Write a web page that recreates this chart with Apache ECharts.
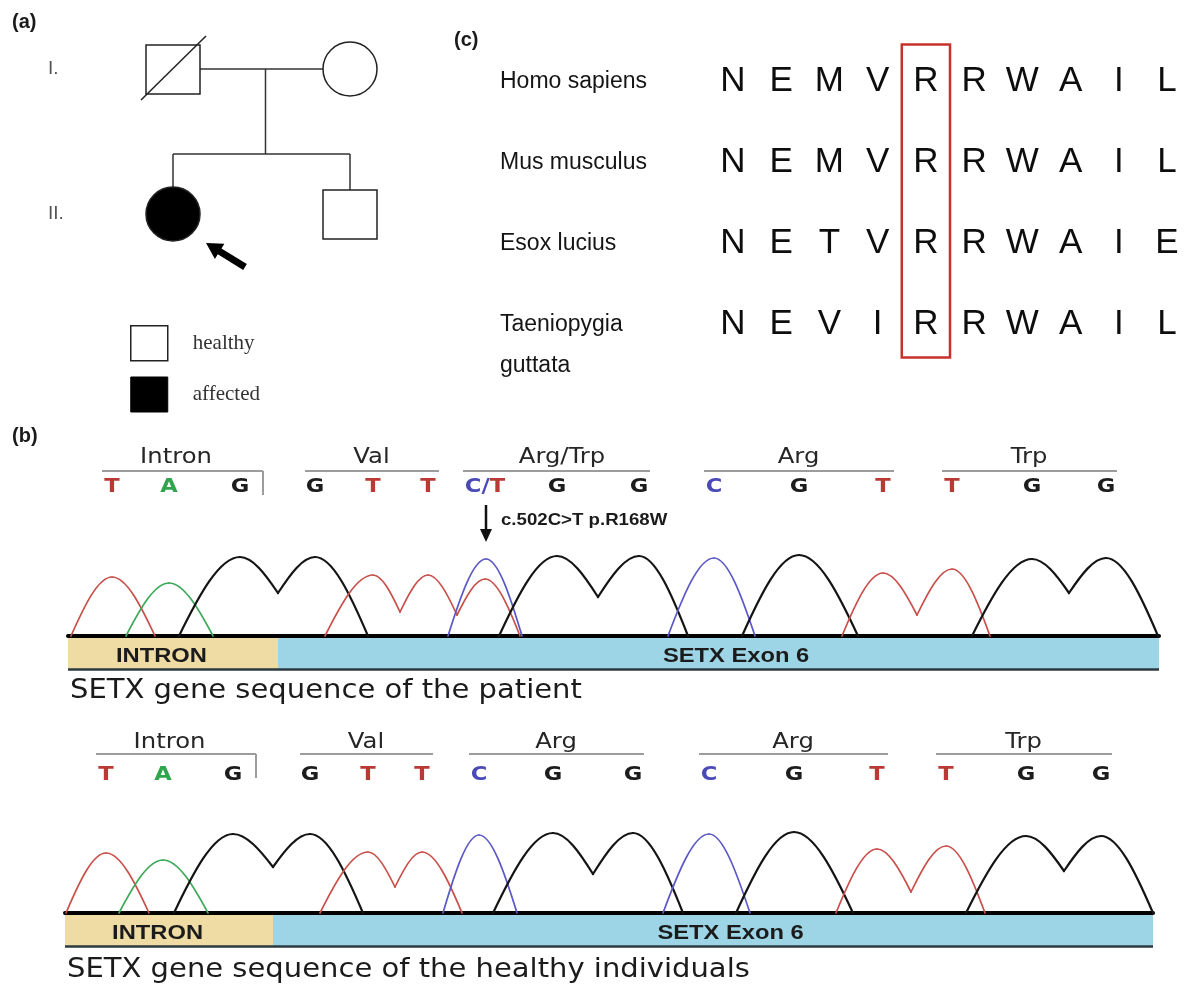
<!DOCTYPE html>
<html>
<head>
<meta charset="utf-8">
<title>SETX c.502C>T</title>
<script src="https://cdn.jsdelivr.net/npm/echarts@6/dist/echarts.min.js"></script>
<style>
  html, body { margin: 0; padding: 0; background: #fff; }
  #chart { width: 1184px; height: 988px; }
</style>
</head>
<body>
<div id="chart"></div>
<script>
// ---- (a) pedigree ----
const memberGen = [1, 1, 2, 2];
const memberSlot = [0, 1, 0, 1];
const memberSex = ['M', 'F', 'F', 'M'];
const memberAffected = [0, 0, 1, 0];
const memberDeceased = [1, 0, 0, 0];
const memberProband = [0, 0, 1, 0];
const generationLabels = ['I.', 'II.'];
const statusNames = ['healthy', 'affected'];

// ---- (c) conservation ----
const species = ['Homo sapiens', 'Mus musculus', 'Esox lucius', 'Taeniopygia guttata'];
const residues = ['NEMVRRWAIL', 'NEMVRRWAIL', 'NETVRRWAIE', 'NEVIRRWAIL'];
const mutatedColumn = 4;

// ---- (b) chromatograms ----
const baseCallsPatient = ['T', 'A', 'G', 'G', 'T', 'T', 'C/T', 'G', 'G', 'C', 'G', 'T', 'T', 'G', 'G'];
const baseCallsHealthy = ['T', 'A', 'G', 'G', 'T', 'T', 'C', 'G', 'G', 'C', 'G', 'T', 'T', 'G', 'G'];
const callPosPatient = [44, 101, 172, 247, 305, 360, 417, 489, 571, 646, 731, 815, 884, 964, 1038];
const callPosHealthy = [41, 98, 168, 245, 303, 357, 414, 488, 568, 644, 729, 812, 881, 961, 1036];
const codonsPatient = ['Intron', 'Val', 'Arg/Trp', 'Arg', 'Trp'];
const codonsHealthy = ['Intron', 'Val', 'Arg', 'Arg', 'Trp'];
const regionNames = ['INTRON', 'SETX Exon 6'];
const regionBoundsPatient = [0, 210, 1091];
const regionBoundsHealthy = [0, 208, 1088];
const mutationNote = 'c.502C>T p.R168W';
const captions = ['SETX gene sequence of the patient', 'SETX gene sequence of the healthy individuals'];

// trace key points (scan position, signal): baseline start, peaks, dips, baseline end
const traceBasePatient = ['T', 'A', 'G', 'T', 'C', 'G', 'C', 'G', 'T', 'G'];
const traceXPatient = [
  [3, 44, 87], [58, 101, 145], [111, 172, 210, 247, 300], [257, 305, 332, 360, 389, 417, 452],
  [380, 418, 454], [431, 489, 530, 571, 620], [600, 646, 687], [674, 731, 790],
  [774, 815, 849, 884, 922], [904, 964, 1001, 1038, 1090]
];
const traceYPatient = [
  [0, 59, 0], [0, 53, 0], [0, 79, 43, 79, 0], [0, 61, 24, 61, 21, 57, 0],
  [0, 77, 0], [0, 80, 39, 80, 0], [0, 78, 0], [0, 81, 0],
  [0, 63, 21, 67, 0], [0, 77, 43, 78, 0]
];
const traceBaseHealthy = ['T', 'A', 'G', 'T', 'C', 'G', 'C', 'G', 'T', 'G'];
const traceXHealthy = [
  [1, 41, 84], [54, 98, 143], [109, 168, 208, 245, 298], [255, 303, 330, 357, 397],
  [378, 414, 452], [428, 488, 528, 568, 618], [598, 644, 685], [671, 729, 788],
  [771, 812, 846, 881, 920], [901, 961, 999, 1036, 1088]
];
const traceYHealthy = [
  [0, 60, 0], [0, 53, 0], [0, 79, 46, 79, 0], [0, 61, 26, 61, 0],
  [0, 78, 0], [0, 80, 39, 80, 0], [0, 79, 0], [0, 81, 0],
  [0, 64, 21, 67, 0], [0, 77, 42, 77, 0]
];

// ---- styles ----
const traceColor = { T: '#c9504a', A: '#3da858', G: '#141414', C: '#5b59c6' };
const callColor = { T: '#b93a35', A: '#2fa64d', G: '#1c1c1c', C: '#4a4ab6' };
const regionColor = ['#eedca4', '#9dd5e7'];
const regionAnchor = [0.445, 0.52];
const stretchX = 1.13; // panel (b) is a slightly widened picture

const panels = [
  {
    grid: 2, calls: baseCallsPatient, pos: callPosPatient, codons: codonsPatient, bounds: regionBoundsPatient,
    traceBase: traceBasePatient, traceX: traceXPatient, traceY: traceYPatient, caption: captions[0],
    callDy: -149, lineDy: -165, labelDy: -179, captionDy: 55
  },
  {
    grid: 3, calls: baseCallsHealthy, pos: callPosHealthy, codons: codonsHealthy, bounds: regionBoundsHealthy,
    traceBase: traceBaseHealthy, traceX: traceXHealthy, traceY: traceYHealthy, caption: captions[1],
    callDy: -138, lineDy: -159, labelDy: -171, captionDy: 57
  }
];

function buildSegments(bases, xs, ys) {
  const segs = [];
  bases.forEach((b, t) => {
    for (let k = 0; k < xs[t].length - 1; k++) {
      segs.push({ base: b, value: [xs[t][k], ys[t][k], xs[t][k + 1], ys[t][k + 1]] });
    }
  });
  return segs;
}

// each half peak is drawn as a quarter sine between two key points
function traceRender(segs) {
  return function (params, api) {
    const s = segs[params.dataIndex];
    const p0 = api.coord([api.value(0), api.value(1)]);
    const p1 = api.coord([api.value(2), api.value(3)]);
    const dx = p1[0] - p0[0];
    const dy = p1[1] - p0[1];
    const k = Math.PI / 6;
    const rising = api.value(3) > api.value(1);
    const c1 = rising ? [p0[0] + dx / 3, p0[1] + dy * k] : [p0[0] + dx / 3, p0[1]];
    const c2 = rising ? [p1[0] - dx / 3, p1[1]] : [p1[0] - dx / 3, p1[1] - dy * k];
    return {
      type: 'bezierCurve',
      shape: { x1: p0[0], y1: p0[1], x2: p1[0], y2: p1[1], cpx1: c1[0], cpy1: c1[1], cpx2: c2[0], cpy2: c2[1] },
      style: { stroke: traceColor[s.base], lineWidth: s.base === 'G' ? 2.2 : 1.7, fill: 'none', lineCap: 'round' }
    };
  };
}

function regionRender(pn) {
  return function (params, api) {
    const i = params.dataIndex;
    const a = api.coord([api.value(0), 0]);
    const b = api.coord([api.value(1), 0]);
    const children = [
      { type: 'rect', shape: { x: a[0], y: a[1] + 2, width: b[0] - a[0], height: 31 }, style: { fill: regionColor[i] } },
      { type: 'line', shape: { x1: a[0], y1: a[1] + 33.5, x2: b[0], y2: a[1] + 33.5 }, style: { stroke: '#2d3a3f', lineWidth: 2.5 } },
      {
        type: 'text', x: a[0] + regionAnchor[i] * (b[0] - a[0]), y: a[1] + 20, scaleX: stretchX,
        style: { text: regionNames[i], fontFamily: 'Liberation Sans', fontWeight: 'bold', fontSize: 21, fill: '#1b1b1b', align: 'center', verticalAlign: 'middle' }
      }
    ];
    if (i === 0) {
      children.push({
        type: 'text', x: a[0] + 2, y: a[1] + pn.captionDy, scaleX: stretchX,
        style: { text: pn.caption, fontFamily: 'DejaVu Sans', fontSize: 25.7, fill: '#1b1b1b', align: 'left', verticalAlign: 'middle' }
      });
    }
    return { type: 'group', children: children };
  };
}

function callRender(pn) {
  return function (params, api) {
    const call = pn.calls[params.dataIndex];
    const p = api.coord([api.value(0), 0]);
    const y = p[1] + pn.callDy;
    const font = { fontFamily: 'DejaVu Sans', fontWeight: 'bold', fontSize: 20 };
    const children = [];
    if (call.indexOf('/') >= 0) {
      const parts = call.split('/');
      children.push({
        type: 'text', x: p[0], y: y, scaleX: stretchX,
        style: Object.assign({
          text: '{a|' + parts[0] + '/}{b|' + parts[1] + '}', align: 'center', verticalAlign: 'middle',
          rich: { a: Object.assign({ fill: callColor[parts[0]] }, font), b: Object.assign({ fill: callColor[parts[1]] }, font) }
        }, font)
      });
      // arrow and annotation under the heterozygous call
      children.push({ type: 'line', shape: { x1: p[0] + 1, y1: y + 18, x2: p[0] + 1, y2: y + 44 }, style: { stroke: '#111', lineWidth: 2.5 } });
      children.push({ type: 'polygon', shape: { points: [[p[0] - 5, y + 42], [p[0] + 7, y + 42], [p[0] + 1, y + 55]] }, style: { fill: '#111' } });
      children.push({
        type: 'text', x: p[0] + 16, y: y + 33, scaleX: stretchX,
        style: { text: mutationNote, fontFamily: 'Liberation Sans', fontWeight: 'bold', fontSize: 16.5, fill: '#1b1b1b', align: 'left', verticalAlign: 'middle' }
      });
    } else {
      children.push({
        type: 'text', x: p[0], y: y, scaleX: stretchX,
        style: Object.assign({ text: call, fill: callColor[call], align: 'center', verticalAlign: 'middle' }, font)
      });
    }
    return { type: 'group', children: children };
  };
}

function codonRender(pn) {
  return function (params, api) {
    const i = params.dataIndex;
    const name = pn.codons[i];
    const first = pn.calls[3 * i];
    const pa = api.coord([api.value(0), 0]);
    const pb = api.coord([api.value(1), 0]);
    const xa = pa[0] - (first.length > 1 ? 22 : 10);
    const xb = pb[0] + (name === 'Intron' ? 23 : 11);
    const ly = pa[1] + pn.lineDy;
    const children = [
      { type: 'line', shape: { x1: xa, y1: ly, x2: xb, y2: ly }, style: { stroke: '#9c9c9c', lineWidth: 2 } },
      {
        type: 'text', x: (pa[0] + pb[0]) / 2, y: pa[1] + pn.labelDy, scaleX: stretchX,
        style: { text: name, fontFamily: 'DejaVu Sans', fontSize: 21.5, fill: '#262626', align: 'center', verticalAlign: 'middle' }
      }
    ];
    if (name === 'Intron') {
      children.push({ type: 'line', shape: { x1: xb, y1: ly, x2: xb, y2: ly + 24 }, style: { stroke: '#9c9c9c', lineWidth: 2 } });
    }
    return { type: 'group', children: children };
  };
}

// ---- pedigree ----
function memberRender(ids) {
  return function (params, api) {
    const m = ids[params.dataIndex];
    const p = api.coord([memberSlot[m], memberGen[m]]);
    const fill = memberAffected[m] ? '#000' : '#fff';
    const children = [];
    if (memberSex[m] === 'M') {
      children.push({ type: 'rect', shape: { x: p[0] - 27, y: p[1] - 24, width: 54, height: 49 }, style: { fill: fill, stroke: '#222', lineWidth: 1.5 } });
    } else {
      children.push({ type: 'circle', shape: { cx: p[0], cy: p[1], r: 27 }, style: { fill: fill, stroke: '#222', lineWidth: 1.5 } });
    }
    if (memberDeceased[m]) {
      children.push({ type: 'line', shape: { x1: p[0] - 32, y1: p[1] + 31, x2: p[0] + 33, y2: p[1] - 33 }, style: { stroke: '#222', lineWidth: 1.5 } });
    }
    if (memberProband[m]) {
      const tip = [p[0] + 33, p[1] + 29];
      const tail = [p[0] + 72, p[1] + 53];
      const len = Math.hypot(tip[0] - tail[0], tip[1] - tail[1]);
      const u = [(tip[0] - tail[0]) / len, (tip[1] - tail[1]) / len];
      const n = [-u[1], u[0]];
      const hb = [tip[0] - u[0] * 16, tip[1] - u[1] * 16];
      const pt = (o, s) => [o[0] + n[0] * s, o[1] + n[1] * s];
      children.push({
        type: 'polygon',
        shape: { points: [tip, pt(hb, 9), pt(hb, 3.5), pt(tail, 3.5), pt(tail, -3.5), pt(hb, -3.5), pt(hb, -9)] },
        style: { fill: '#000' }
      });
    }
    return { type: 'group', children: children };
  };
}

function familyRender(params, api) {
  const parents = memberGen.map((g, i) => i).filter(i => memberGen[i] === 1);
  const kids = memberGen.map((g, i) => i).filter(i => memberGen[i] === 2);
  const pa = api.coord([memberSlot[parents[0]], 1]);
  const pb = api.coord([memberSlot[parents[1]], 1]);
  const ka = api.coord([memberSlot[kids[0]], 2]);
  const kb = api.coord([memberSlot[kids[kids.length - 1]], 2]);
  const midX = (pa[0] + pb[0]) / 2 + 4;
  const sibY = pa[1] + 0.586 * (ka[1] - pa[1]);
  const st = { stroke: '#333', lineWidth: 1.5 };
  const children = [
    { type: 'line', shape: { x1: pa[0] + 27, y1: pa[1], x2: pb[0] - 27, y2: pb[1] }, style: st },
    { type: 'line', shape: { x1: midX, y1: pa[1], x2: midX, y2: sibY }, style: st },
    { type: 'line', shape: { x1: ka[0], y1: sibY, x2: kb[0], y2: sibY }, style: st }
  ];
  kids.forEach(k => {
    const c = api.coord([memberSlot[k], 2]);
    children.push({ type: 'line', shape: { x1: c[0], y1: sibY, x2: c[0], y2: c[1] - (memberSex[k] === 'M' ? 24 : 27) }, style: st });
  });
  return { type: 'group', children: children };
}

const healthyIds = memberGen.map((g, i) => i).filter(i => !memberAffected[i]);
const affectedIds = memberGen.map((g, i) => i).filter(i => memberAffected[i]);

// ---- alignment ----
const alignCells = [];
residues.forEach((seq, r) => seq.split('').forEach((aa, c) => alignCells.push([c, r, aa])));

const series = [
  { type: 'custom', name: 'family', xAxisIndex: 0, yAxisIndex: 0, silent: true, data: [[0.5, 1]], renderItem: familyRender },
  { type: 'custom', name: statusNames[0], xAxisIndex: 0, yAxisIndex: 0, silent: true,
    data: healthyIds.map(i => [memberSlot[i], memberGen[i]]), renderItem: memberRender(healthyIds) },
  { type: 'custom', name: statusNames[1], xAxisIndex: 0, yAxisIndex: 0, silent: true,
    data: affectedIds.map(i => [memberSlot[i], memberGen[i]]), renderItem: memberRender(affectedIds) },
  {
    type: 'custom', name: 'residues', xAxisIndex: 1, yAxisIndex: 1, silent: true,
    data: alignCells.map(d => [d[0], d[1]]),
    renderItem: (params, api) => {
      const p = api.coord([api.value(0), api.value(1)]);
      return { type: 'text', x: p[0], y: p[1], style: { text: alignCells[params.dataIndex][2], fontFamily: 'Liberation Sans', fontSize: 35, fill: '#0d0d0d', align: 'center', verticalAlign: 'middle' } };
    }
  },
  {
    type: 'custom', name: 'species', xAxisIndex: 1, yAxisIndex: 1, silent: true,
    data: species.map((s, r) => [0, r]),
    renderItem: (params, api) => {
      const p = api.coord([0, api.value(1)]);
      return { type: 'text', x: p[0] - 233, y: p[1] - 20.5, style: { text: species[params.dataIndex], fontFamily: 'Liberation Sans', fontSize: 23, fill: '#151515', lineHeight: 41, width: 165, overflow: 'break', align: 'left', verticalAlign: 'top' } };
    }
  },
  {
    type: 'custom', name: 'mutated', xAxisIndex: 1, yAxisIndex: 1, silent: true,
    data: [[mutatedColumn, 0]],
    renderItem: (params, api) => {
      const top = api.coord([api.value(0), 0]);
      const bottom = api.coord([api.value(0), residues.length - 1]);
      const w = api.size([1, 0])[0];
      return { type: 'rect', shape: { x: top[0] - w / 2, y: top[1] - 37, width: w, height: bottom[1] - top[1] + 70 }, style: { fill: 'none', stroke: '#c8322c', lineWidth: 2.5 } };
    }
  }
];

panels.forEach(pn => {
  const segs = buildSegments(pn.traceBase, pn.traceX, pn.traceY);
  series.push({ type: 'custom', xAxisIndex: pn.grid, yAxisIndex: pn.grid, silent: true, z: 3,
    data: segs.map(s => s.value), renderItem: traceRender(segs) });
  series.push({ type: 'custom', xAxisIndex: pn.grid, yAxisIndex: pn.grid, silent: true,
    data: pn.bounds.slice(0, -1).map((b, i) => [b, pn.bounds[i + 1]]), renderItem: regionRender(pn) });
  series.push({ type: 'custom', xAxisIndex: pn.grid, yAxisIndex: pn.grid, silent: true,
    data: pn.pos.map(p => [p, 0]), renderItem: callRender(pn) });
  series.push({ type: 'custom', xAxisIndex: pn.grid, yAxisIndex: pn.grid, silent: true,
    data: pn.codons.map((c, i) => [pn.pos[3 * i], pn.pos[3 * i + 2]]), renderItem: codonRender(pn) });
});

const panelTitle = { fontFamily: 'Liberation Sans', fontWeight: 'bold', fontSize: 20, color: '#1a1a1a' };
const hiddenValue = { show: false };
const chromX = max => ({
  type: 'value', min: 0, max: max,
  axisLine: { show: true, onZero: false, lineStyle: { color: '#000', width: 4 } },
  axisTick: { show: false }, axisLabel: { show: false }, splitLine: { show: false }
});

const chart = echarts.init(document.getElementById('chart'));
chart.setOption({
  backgroundColor: '#fff',
  animation: false,
  title: [
    { text: '(a)', left: 12, top: 12, padding: 0, textStyle: panelTitle },
    { text: '(b)', left: 12, top: 426, padding: 0, textStyle: panelTitle },
    { text: '(c)', left: 454, top: 30, padding: 0, textStyle: panelTitle }
  ],
  legend: {
    orient: 'vertical', left: 130, top: 325, itemWidth: 37, itemHeight: 35, itemGap: 15,
    icon: 'rect', selectedMode: false, padding: 0,
    data: [
      { name: statusNames[0], itemStyle: { color: '#fff', borderColor: '#222', borderWidth: 1.5 } },
      { name: statusNames[1], itemStyle: { color: '#000', borderColor: '#000', borderWidth: 1 } }
    ],
    textStyle: { fontFamily: 'Liberation Serif', fontSize: 21, color: '#333', padding: [0, 0, 0, 20] }
  },
  grid: [
    { left: 173, top: 69, width: 177, height: 145 },
    { left: 733, top: 41, width: 434, height: 324 },
    { left: 68, top: 536, width: 1091, height: 100 },
    { left: 65, top: 813, width: 1088, height: 100 }
  ],
  xAxis: [
    { type: 'value', gridIndex: 0, min: 0, max: 1, show: false },
    { type: 'category', gridIndex: 1, data: residues[0].split('').map((a, i) => String(i + 1)), boundaryGap: false, show: false },
    Object.assign({ gridIndex: 2 }, chromX(1091)),
    Object.assign({ gridIndex: 3 }, chromX(1088))
  ],
  yAxis: [
    {
      type: 'value', gridIndex: 0, min: 1, max: 2, interval: 1, inverse: true,
      axisLine: { show: false }, axisTick: { show: false }, splitLine: { show: false },
      axisLabel: { formatter: v => generationLabels[v - 1], align: 'left', margin: 125, fontFamily: 'Liberation Sans', fontSize: 19, color: '#555' }
    },
    { type: 'category', gridIndex: 1, data: species, inverse: true, show: false },
    { type: 'value', gridIndex: 2, min: 0, max: 100, show: false },
    { type: 'value', gridIndex: 3, min: 0, max: 100, show: false }
  ],
  series: series
});
</script>
</body>
</html>
